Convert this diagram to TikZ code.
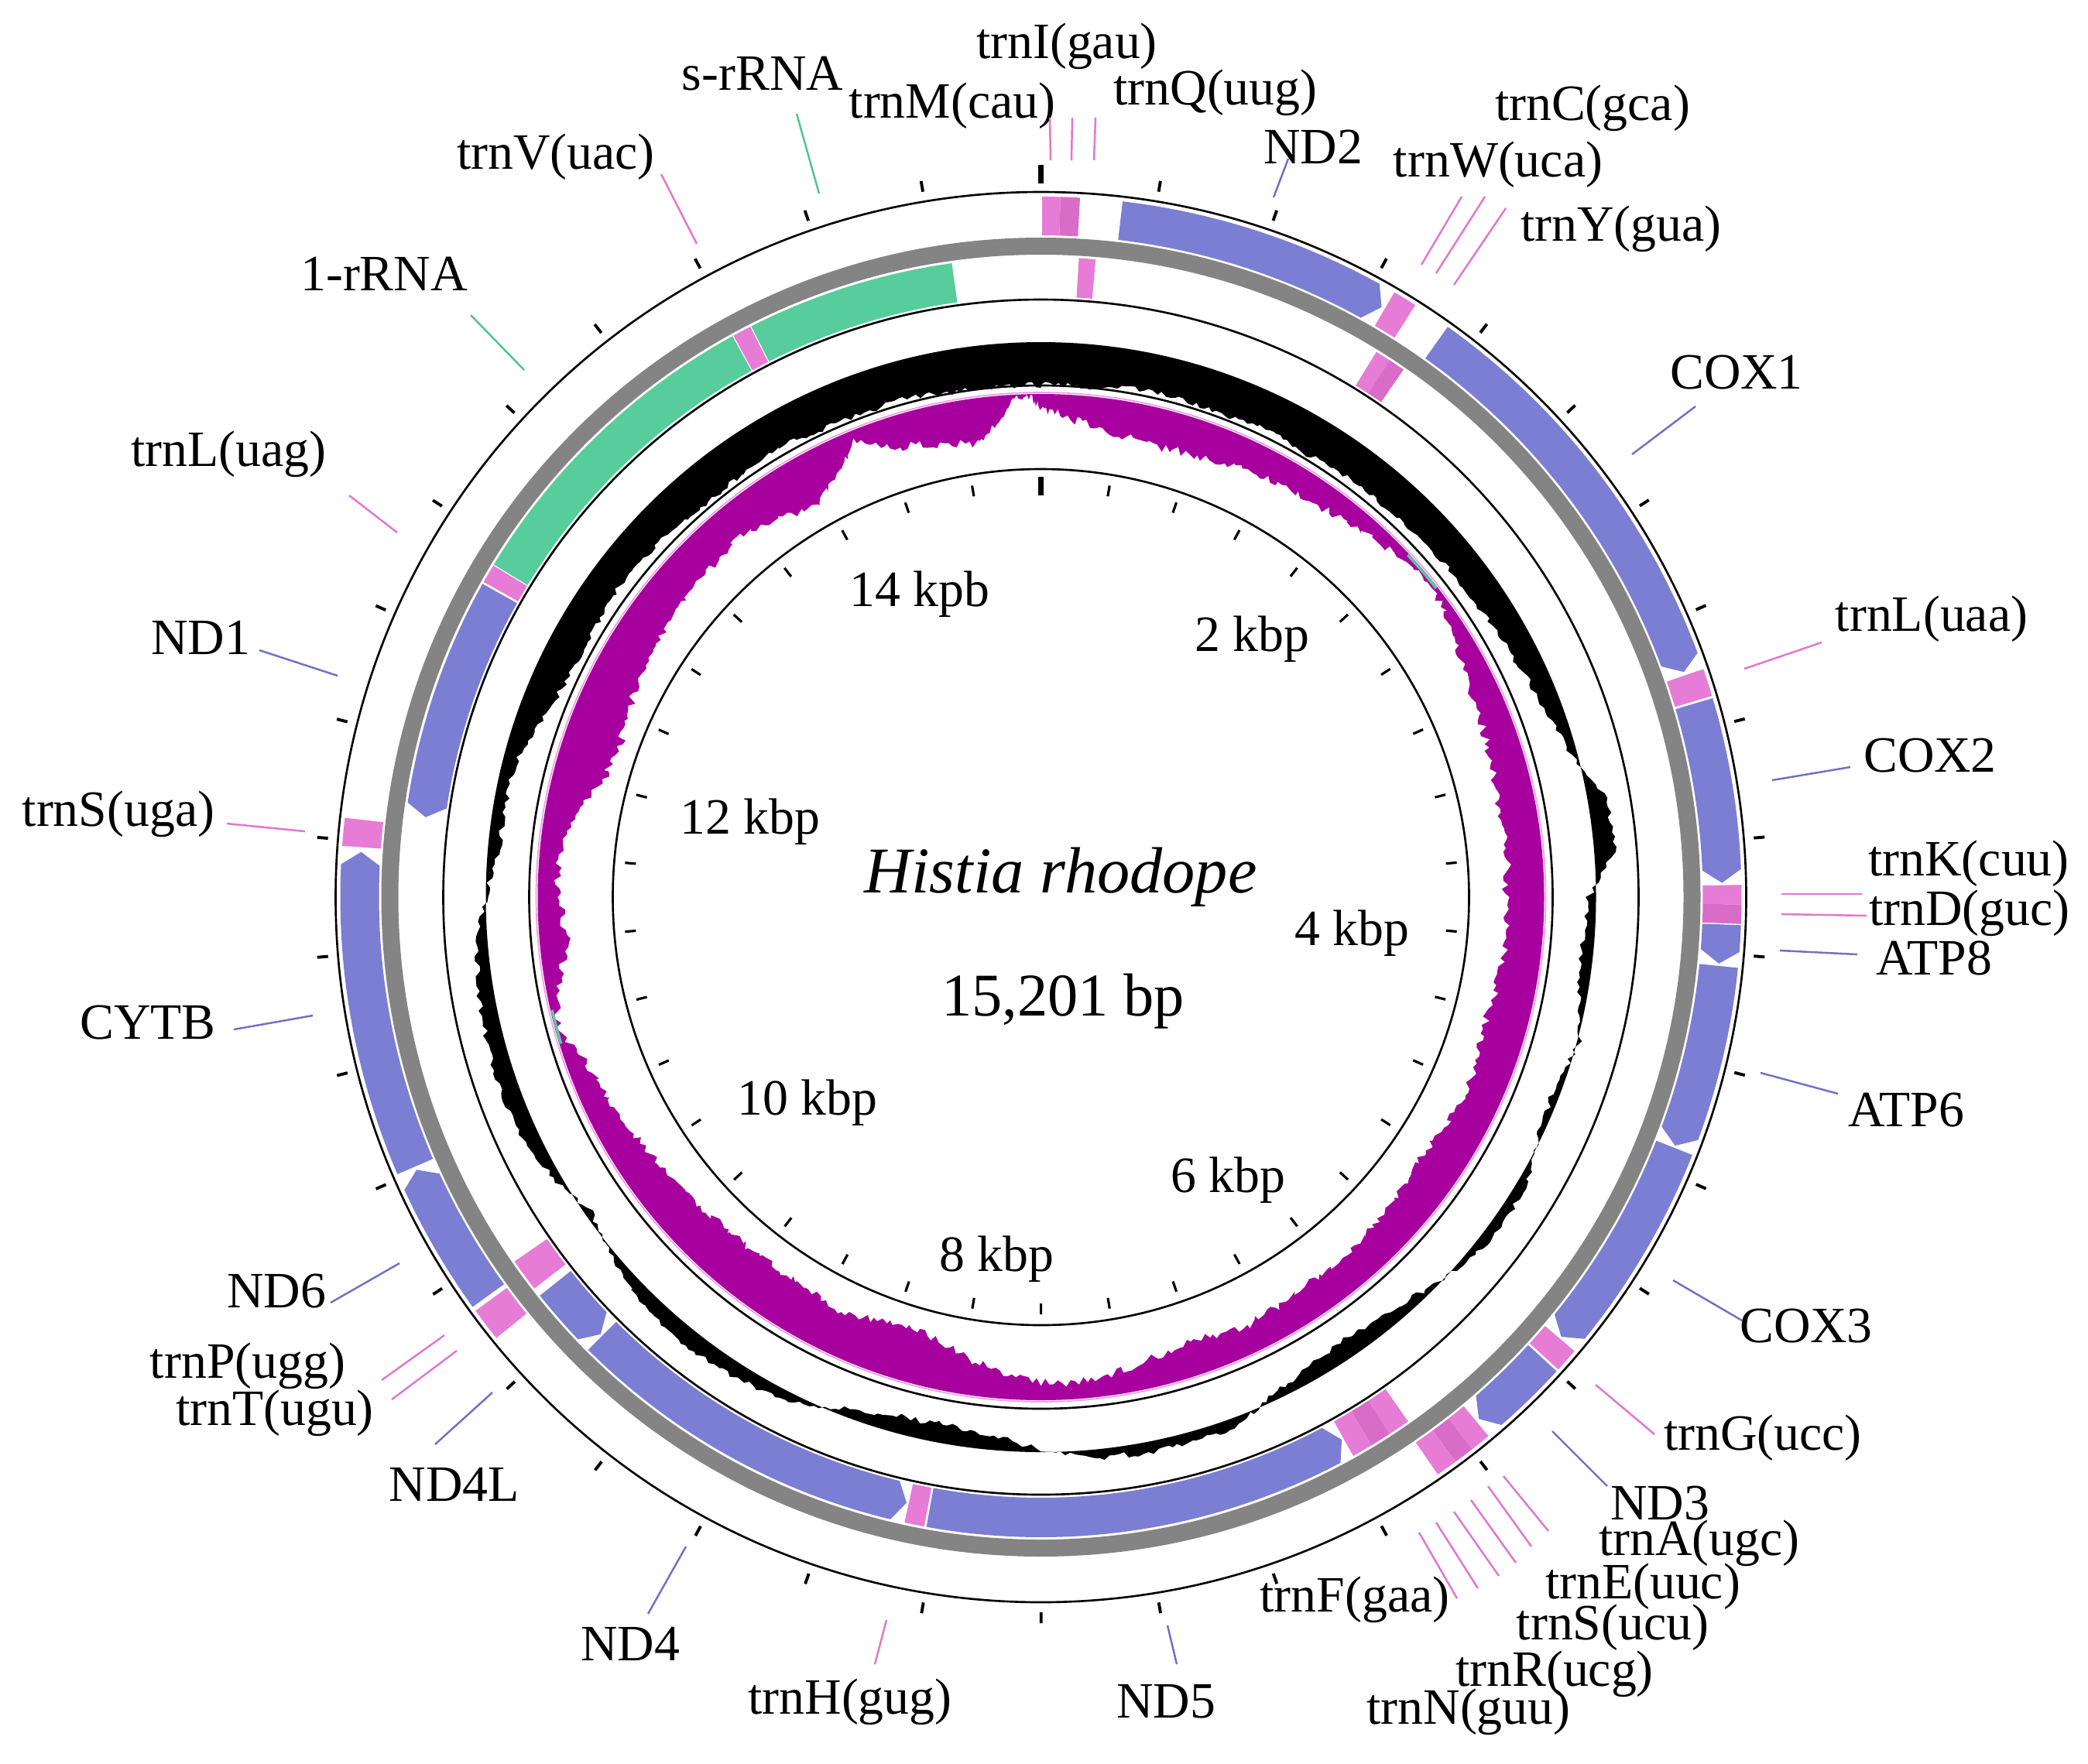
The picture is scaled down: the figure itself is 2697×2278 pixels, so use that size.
\documentclass[tikz,border=0pt]{standalone}
\usepackage{fontspec}
\setmainfont{Liberation Serif}
\definecolor{cds}{RGB}{123,126,210}
\definecolor{pinka}{RGB}{230,124,214}
\definecolor{pinkb}{RGB}{216,108,200}
\definecolor{rrna}{RGB}{86,205,155}
\definecolor{ringgray}{RGB}{132,132,132}
\definecolor{skew}{RGB}{168,0,158}
\definecolor{skewedge}{RGB}{236,160,226}
\definecolor{cdsline}{RGB}{112,112,196}
\definecolor{trnline}{RGB}{226,118,206}
\definecolor{rrline}{RGB}{80,196,146}
% band: start, end, rin, rout, colour
\newcommand\gband[5]{\fill[#5] ({#1-90}:#4) arc[start angle={#1-90}, end angle={#2-90}, radius=#4] -- ({#2-90}:#3) arc[start angle={#2-90}, end angle={#1-90}, radius=#3] -- cycle;}
% forward arrow (tip at end)
\newcommand\garrowf[5]{\fill[#5] ({#1-90}:#4) arc[start angle={#1-90}, end angle={#2-91.1}, radius=#4] -- ({#2-90}:{(#3+#4)/2}) -- ({#2-91.1}:#3) arc[start angle={#2-91.1}, end angle={#1-90}, radius=#3] -- cycle;}
% reverse arrow (tip at start)
\newcommand\garrowr[5]{\fill[#5] ({#1-90}:{(#3+#4)/2}) -- ({#1-88.9}:#4) arc[start angle={#1-88.9}, end angle={#2-90}, radius=#4] -- ({#2-90}:#3) arc[start angle={#2-90}, end angle={#1-88.9}, radius=#3] -- cycle;}
% label: name, text, cx, cy, colour, x1, y1, x2, y2
\newcommand\glab[9]{\node[lbl] (#1) at (#3,#4) {#2};
  \coordinate (#1a) at (#6,#7); \coordinate (#1b) at (#8,#9);
  \draw[leader,#5] (#1a) -- (#1b);}
\begin{document}
\begin{tikzpicture}[x=0.01cm,y=-0.01cm,
  lbl/.style={font=\fontsize{18.7}{20}\selectfont, inner sep=0pt, anchor=center},
  leader/.style={line width=0.7pt},
  ringline/.style={line width=0.75pt, black},
  tickmark/.style={line width=1.1pt, black}]
\fill[white] (0,0) rectangle (2697,2278);
\useasboundingbox (0,0) rectangle (2697,2278);
\pgfmathsetseed{42}
\begin{scope}[shift={(1344.5,1159)}]
  % gray ring
  \fill[ringgray, even odd rule] (0,0) circle (852) (0,0) circle (830);
  % forward strand features (outer band)
  \def\fa{855}\def\fb{905}
  \gband{0.1}{1.6}{\fa}{\fb}{pinka}
  \gband{1.6}{3.2}{\fa}{\fb}{pinkb}
  \garrowf{6.7}{30.0}{\fa}{\fb}{cds}
  \gband{30.3}{32.3}{\fa}{\fb}{pinka}
  \garrowf{35.5}{70.7}{\fa}{\fb}{cds}
  \gband{71.0}{73.3}{\fa}{\fb}{pinka}
  \garrowf{73.5}{88.8}{\fa}{\fb}{cds}
  \gband{89.0}{90.6}{\fa}{\fb}{pinka}
  \gband{90.6}{92.2}{\fa}{\fb}{pinkb}
  \garrowf{92.3}{95.6}{\fa}{\fb}{cds}
  \garrowf{95.8}{111.4}{\fa}{\fb}{cds}
  \garrowf{111.6}{130.2}{\fa}{\fb}{cds}
  \gband{130.4}{132.4}{\fa}{\fb}{pinka}
  \garrowf{132.6}{140.0}{\fa}{\fb}{cds}
  \gband{140.3}{142.0}{\fa}{\fb}{pinka}
  \gband{142.0}{143.7}{\fa}{\fb}{pinkb}
  \gband{143.7}{145.5}{\fa}{\fb}{pinka}
  \gband{231.0}{233.8}{\fa}{\fb}{pinka}
  \garrowf{234.2}{246.4}{\fa}{\fb}{cds}
  \garrowf{246.7}{273.8}{\fa}{\fb}{cds}
  \gband{274.2}{276.5}{\fa}{\fb}{pinka}
  % reverse strand features (inner band)
  \def\ra{776}\def\rb{827}
  \gband{3.4}{4.9}{\ra}{\rb}{pinka}
  \gband{31.6}{33.0}{\ra}{\rb}{pinka}
  \gband{33.0}{34.5}{\ra}{\rb}{pinkb}
  \gband{145.0}{147.0}{\ra}{\rb}{pinka}
  \gband{147.0}{148.9}{\ra}{\rb}{pinkb}
  \gband{148.9}{150.8}{\ra}{\rb}{pinka}
  \garrowr{151.0}{190.3}{\ra}{\rb}{cds}
  \gband{190.5}{192.3}{\ra}{\rb}{pinka}
  \garrowr{192.5}{225.0}{\ra}{\rb}{cds}
  \garrowr{225.2}{231.5}{\ra}{\rb}{cds}
  \gband{232.3}{235.3}{\ra}{\rb}{pinka}
  \garrowr{277.4}{299.3}{\ra}{\rb}{cds}
  \gband{299.5}{301.2}{\ra}{\rb}{pinka}
  \gband{301.3}{331.2}{\ra}{\rb}{rrna}
  \gband{331.3}{333.0}{\ra}{\rb}{pinka}
  \gband{333.1}{352.0}{\ra}{\rb}{rrna}
  % GC content
  \fill[black] (-90:662)
    \foreach \t/\d [remember=\t as \tp (initially 0), remember=\d as \dp (initially -55)] in
    {5/-55,10/-50,15/-48,20/-52,25/-45,30/-50,35/-46,40/-45,45/-44,50/-42,55/-40,60/-36,65/-30,70/-22,75/-8,80/24,85/28,90/-10,95/-15,100/-12,105/4,110/-10,115/-6,120/10,125/15,130/8,135/-6,140/-18,145/-24,150/-20,155/-8,160/12,165/14,170/13,175/10,180/-4,185/-20,190/-25,195/-22,200/-14,205/8,210/15,215/20,220/22,225/18,230/5,235/-8,240/10,245/20,250/25,255/22,260/20,265/14,270/0,275/-15,280/-15,285/-18,290/-35,295/-45,300/-45,305/-40,310/-42,315/-46,320/-50,325/-48,330/-45,335/-50,340/-52,345/-50,350/-55,355/-55,360/-55}
    { \foreach \j in {1,...,10} { -- ({\tp+(\t-\tp)*\j/10-90}:{717+(\dp)+((\d)-(\dp))*\j/10+4*(2*rnd-1)}) } }
    -- (270:717) arc[start angle=270, end angle=-90, radius=717] -- cycle;
  % GC skew
  \draw[skewedge, line width=0.5pt] (0,0) circle (652);
  \fill[skew] (-90:630)
    \foreach \t/\d [remember=\t as \tp (initially 0), remember=\d as \dp (initially 20)] in
    {2/25,5/35,10/45,15/50,20/45,25/40,30/35,35/30,40/25,45/15,50/3,55/12,60/25,65/35,70/40,75/45,80/50,85/45,90/50,95/45,100/50,105/55,110/50,115/45,120/50,125/55,130/50,135/45,140/40,145/45,150/40,155/35,160/45,165/40,170/30,175/22,180/23,185/35,190/50,195/68,200/65,205/55,210/60,215/62,220/60,225/58,230/55,235/48,240/40,245/35,250/25,255/3,260/20,265/35,270/28,275/25,280/40,285/65,290/72,295/65,300/58,305/55,310/50,315/48,320/42,325/55,330/68,335/40,338/12,342/40,347/50,352/58,355/30,357/6,359/6,360/20}
    { \foreach \j in {1,...,10} { -- ({\tp+(\t-\tp)*\j/10-90}:{650-(\dp)-((\d)-(\dp))*\j/10+6*(2*rnd-1)}) } }
    -- (270:650) arc[start angle=270, end angle=-90, radius=650] -- cycle;
  \draw[rrna, line width=1pt] ({47-90}:648) arc[start angle={47-90}, end angle={52-90}, radius=648];
  \draw[rrna, line width=1pt] ({253-90}:648) arc[start angle={253-90}, end angle={257-90}, radius=648];
  % circles
  \draw[ringline] (0,0) circle (911);
  \draw[ringline] (0,0) circle (772);
  \draw[ringline] (0,0) circle (661);
  \draw[ringline] (0,0) circle (553);
  % ticks
  \draw[line width=1.9pt] (-90:922) -- (-90:946);
  \foreach \k in {1,...,37} { \draw[tickmark] ({\k*9.47306-90}:924) -- ({\k*9.47306-90}:938); }
  \draw[line width=1.9pt] (-90:519) -- (-90:543);
  \foreach \k in {1,...,37} { \draw[tickmark, line width=0.9pt] ({\k*9.47306-90}:525) -- ({\k*9.47306-90}:539); }
\end{scope}
% centre texts
\node[font=\fontsize{24}{28}\selectfont\itshape, inner sep=0pt] (title) at (1370,1133) {Histia rhodope};
\node[font=\fontsize{22.3}{26}\selectfont, inner sep=0pt] (size) at (1373,1294) {15,201 bp};
% scale labels
\node[lbl] (k2) at (1617,826) {2 kbp};
\node[lbl] (k4) at (1746,1206) {4 kbp};
\node[lbl] (k6) at (1586,1525) {6 kbp};
\node[lbl] (k8) at (1287,1627) {8 kbp};
\node[lbl] (k10) at (1043,1425) {10 kbp};
\node[lbl] (k12) at (969,1062) {12 kbp};
\node[lbl] (k14) at (1188,768) {14 kpb};
% gene labels
\glab{lM}{trnM(cau)}{1230}{137}{trnline}{1357}{207}{1356}{152}
\glab{lI}{trnI(gau)}{1378}{60}{trnline}{1384}{207}{1385}{152}
\glab{lQ}{trnQ(uug)}{1570}{120}{trnline}{1413}{207}{1415}{152}
\glab{lNDtwo}{ND2}{1696}{190}{cdsline}{1645}{255}{1664}{205}
\glab{lW}{trnW(uca)}{1935}{213}{trnline}{1836}{342}{1888}{254}
\glab{lC}{trnC(gca)}{2057}{140}{trnline}{1855}{353}{1918}{254}
\glab{lY}{trnY(gua)}{2094}{296}{trnline}{1878}{368}{1945}{269}
\glab{lCOXone}{COX1}{2243}{481}{cdsline}{2108}{587}{2190}{525}
\glab{lLtwo}{trnL(uaa)}{2495}{800}{trnline}{2253}{864}{2353}{830}
\glab{lCOXtwo}{COX2}{2493}{976}{cdsline}{2289}{1008}{2390}{991}
\glab{lK}{trnK(cuu)}{2543}{1116}{trnline}{2301}{1155}{2405}{1155}
\glab{lD}{trnD(guc)}{2544}{1180}{trnline}{2301}{1181}{2411}{1183}
\glab{lATPeight}{ATP8}{2498}{1238}{cdsline}{2299}{1228}{2399}{1233}
\glab{lATPsix}{ATP6}{2462}{1434}{cdsline}{2274}{1386}{2374}{1413}
\glab{lCOXthree}{COX3}{2333}{1713}{cdsline}{2161}{1654}{2250}{1706}
\glab{lG}{trnG(ucc)}{2277}{1858}{trnline}{2061}{1789}{2137}{1853}
\glab{lNDthree}{ND3}{2144}{1942}{cdsline}{2005}{1849}{2076}{1920}
\glab{lA}{trnA(ugc)}{2195}{1994}{trnline}{1942}{1907}{2000}{1978}
\glab{lE}{trnE(uuc)}{2122}{2050}{trnline}{1922}{1920}{1978}{1998}
\glab{lSone}{trnS(ucu)}{2083}{2103}{trnline}{1900}{1938}{1958}{2019}
\glab{lR}{trnR(ucg)}{2008}{2163}{trnline}{1878}{1953}{1936}{2036}
\glab{lN}{trnN(guu)}{1897}{2212}{trnline}{1855}{1967}{1909}{2052}
\glab{lF}{trnF(gaa)}{1750}{2067}{trnline}{1833}{1980}{1882}{2065}
\glab{lNDfive}{ND5}{1506}{2198}{cdsline}{1508}{2100}{1520}{2150}
\glab{lH}{trnH(gug)}{1098}{2199}{trnline}{1145}{2093}{1130}{2150}
\glab{lNDfour}{ND4}{814}{2124}{cdsline}{886}{1998}{837}{2085}
\glab{lNDfourL}{ND4L}{587}{1918}{cdsline}{636}{1799}{562}{1866}
\glab{lT}{trnT(ugu)}{355}{1826}{trnline}{590}{1745}{506}{1808}
\glab{lP}{trnP(ugg)}{320}{1765}{trnline}{574}{1725}{493}{1783}
\glab{lNDsix}{ND6}{357}{1668}{cdsline}{516}{1632}{427}{1683}
\glab{lCYTB}{CYTB}{191}{1321}{cdsline}{404}{1312}{302}{1330}
\glab{lStwo}{trnS(uga)}{153}{1052}{trnline}{394}{1074}{293}{1064}
\glab{lNDone}{ND1}{259}{824}{cdsline}{436}{873}{335}{840}
\glab{lLone}{trnL(uag)}{295}{587}{trnline}{513}{688}{451}{640}
\glab{lrrnL}{1-rRNA}{496}{354}{rrline}{677}{478}{608}{407}
\glab{lV}{trnV(uac)}{718}{203}{trnline}{900}{315}{854}{225}
\glab{lrrnS}{s-rRNA}{985}{95}{rrline}{1058}{250}{1029}{147}
\end{tikzpicture}
\end{document}
